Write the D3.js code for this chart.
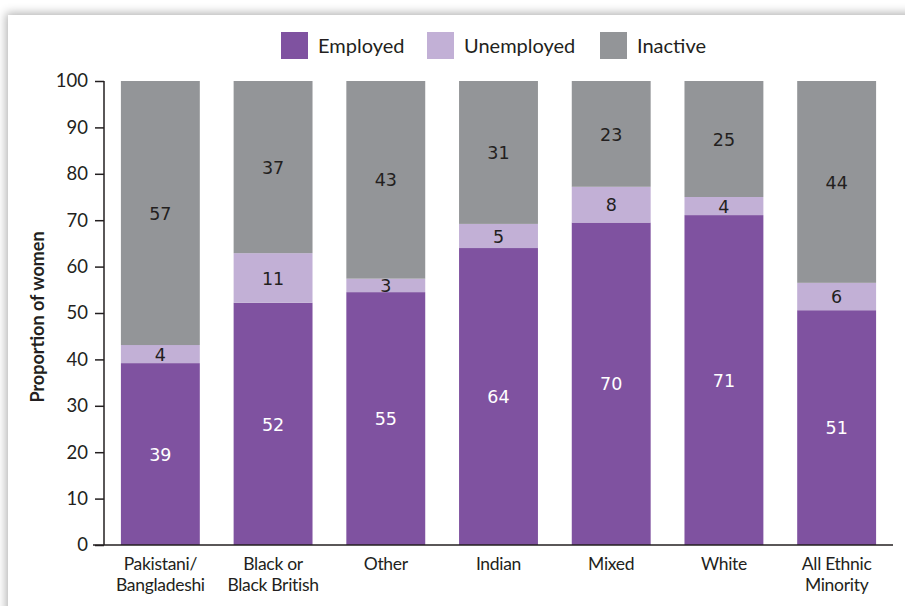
<!DOCTYPE html>
<html>
<head>
<meta charset="utf-8">
<script src="https://cdn.jsdelivr.net/npm/d3@7"></script>
<style>
  body { margin: 0; background: #fff; }
  #card { position: absolute; left: 8px; top: 15px; width: 920px; height: 620px; background: #fff;
          box-shadow: -2px -2px 9px rgba(0,0,0,0.30); }
  svg { position: absolute; left: 0; top: 0; }
</style>
</head>
<body>
<div id="card"></div>
<div id="chart"></div>
<script>
// data
var categories = ["Pakistani/\nBangladeshi", "Black or\nBlack British", "Other", "Indian", "Mixed", "White", "All Ethnic\nMinority"]
var employed   = [39.2, 52.2, 54.5, 64.0, 69.5, 71.1, 50.6]
var unemployed = [3.9, 10.7, 2.9, 5.2, 7.7, 3.9, 5.9]
var inactive   = [56.9, 37.1, 42.6, 30.8, 22.8, 25.0, 43.5]
var yTicks = [0, 10, 20, 30, 40, 50, 60, 70, 80, 90, 100]
var keys = ["Employed", "Unemployed", "Inactive"]

var rows = categories.map(function(c, i){
  return {cat: c, Employed: employed[i], Unemployed: unemployed[i], Inactive: inactive[i]}
})

var width = 905, height = 606
var margin = {top: 81, right: 12, bottom: 61, left: 104}
var innerW = width - margin.left - margin.right
var innerH = height - margin.top - margin.bottom

var svg = d3.select("#chart")
  .append("svg")
    .attr("width", width)
    .attr("height", height)

var g = svg.append("g")
  .attr("transform", "translate(" + margin.left + "," + margin.top + ")")

var x = d3.scaleBand()
  .domain(categories)
  .range([0, 789])
  .paddingInner(0.3)
  .paddingOuter(0.15)

var y = d3.scaleLinear()
  .domain([0, 100])
  .range([innerH, 0])

var color = d3.scaleOrdinal()
  .domain(keys)
  .range(["#7f52a0", "#c2b0d6", "#939598"])

var stacked = d3.stack().keys(keys)(rows)

var layer = g.selectAll("g.layer")
  .data(stacked)
  .enter()
  .append("g")
    .attr("class", "layer")
    .style("fill", function(d){ return color(d.key) })

layer.selectAll("rect")
  .data(function(d){ return d })
  .enter()
  .append("rect")
    .attr("x", function(d){ return x(d.data.cat) })
    .attr("width", x.bandwidth())
    .attr("y", function(d){ return y(Math.min(d[1], 100)) })
    .attr("height", function(d){ return y(d[0]) - y(Math.min(d[1], 100)) })

// value labels in each segment
stacked.forEach(function(s){
  g.selectAll("text.v" + s.key)
    .data(s)
    .enter()
    .append("text")
      .attr("x", function(d){ return x(d.data.cat) + x.bandwidth()/2 })
      .attr("y", function(d){ return (y(d[0]) + y(d[1]))/2 })
      .attr("dy", "0.38em")
      .attr("text-anchor", "middle")
      .style("font-family", "DejaVu Sans")
      .style("font-size", "17.5px")
      .style("fill", s.key == "Employed" ? "#ffffff" : "#231f20")
      .text(function(d){ return Math.round(d[1] - d[0]) })
})

// y axis
var yAxis = g.append("g")
  .call(d3.axisLeft(y).tickValues(yTicks).tickSize(9).tickPadding(7))
yAxis.select(".domain").attr("stroke", "#231f20").attr("stroke-width", 1.5).attr("d", "M0," + innerH + "V0")
yAxis.selectAll(".tick line").attr("stroke", "#231f20").attr("stroke-width", 1.5)
yAxis.selectAll("text")
  .style("font-family", "Lato")
  .style("font-size", "18.5px")
  .style("fill", "#231f20")

// x axis line
g.append("line")
  .attr("x1", -11).attr("x2", 789)
  .attr("y1", innerH).attr("y2", innerH)
  .attr("stroke", "#231f20").attr("stroke-width", 1.5)

// category labels
var catLabels = g.selectAll("text.cat")
  .data(categories)
  .enter()
  .append("text")
    .attr("class", "cat")
    .attr("text-anchor", "middle")
    .attr("x", function(d){ return x(d) + x.bandwidth()/2 })
    .attr("y", innerH + 25)
    .style("font-family", "Lato")
    .style("font-size", "17.5px")
    .style("letter-spacing", "-0.3px")
    .style("fill", "#231f20")
catLabels.selectAll("tspan")
  .data(function(d){ return d.split("\n") })
  .enter()
  .append("tspan")
    .attr("x", function(){ var p = this.parentNode.__data__; return x(p) + x.bandwidth()/2 })
    .attr("dy", function(d, i){ return i == 0 ? 0 : 21 })
    .text(function(d){ return d })

// y axis title
svg.append("text")
  .attr("transform", "translate(44,317) rotate(-90)")
  .attr("text-anchor", "middle")
  .style("font-family", "Lato")
  .style("font-weight", "bold")
  .style("font-size", "18px")
  .style("fill", "#231f20")
  .text("Proportion of women")

// legend
var legendX = [281, 427, 600]
var size = 27
var legend = svg.selectAll("g.legend")
  .data(keys)
  .enter()
  .append("g")
    .attr("transform", function(d, i){ return "translate(" + legendX[i] + ",32)" })
legend.append("rect")
  .attr("width", size)
  .attr("height", size)
  .style("fill", function(d){ return color(d) })
legend.append("text")
  .attr("x", size + 10)
  .attr("y", size/2)
  .attr("dy", "0.36em")
  .style("font-family", "Lato")
  .style("font-size", "20px")
  .style("fill", "#231f20")
  .text(function(d){ return d })
</script>
</body>
</html>
